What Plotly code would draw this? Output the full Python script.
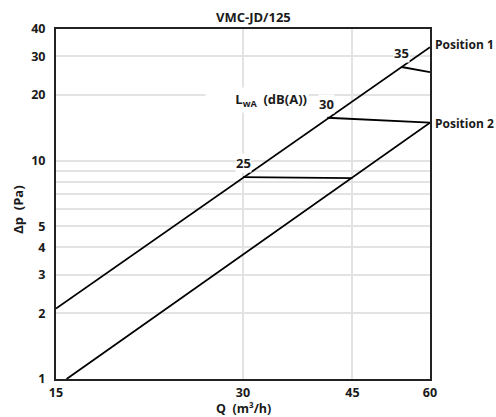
import numpy as np
import plotly.graph_objects as go

# Data
q_pos1 = [15, 60]
dp_pos1 = [2.1, 33.0]
q_pos2 = [15.6, 60]
dp_pos2 = [1.0, 14.9]

# iso-noise lines (LwA dB(A))
lwa_levels = ["25", "30", "35"]
lwa_q = [[30, 45], [41, 60], [54, 60]]
lwa_dp = [[8.4, 8.3], [15.7, 14.9], [26.8, 25.4]]
lwa_label_q = [30, 40.9, 53.9]
lwa_label_dp = [9.74, 18.1, 31.1]

x_ticks = [15, 30, 45, 60]
y_ticks = [1, 2, 3, 4, 5, 6, 7, 8, 9, 10, 20, 30, 40]
y_ticktext = ["1", "2", "3", "4", "5", "", "", "", "", "10", "20", "30", "40"]

FONT = "Open Sans"
TXT = "#1a1a1a"
FS = 13
TICK_FS = 12.5

fig = go.Figure()
fig.add_trace(go.Scatter(x=q_pos1, y=dp_pos1, mode="lines",
                         line=dict(color="black", width=1.8), showlegend=False))
fig.add_trace(go.Scatter(x=q_pos2, y=dp_pos2, mode="lines",
                         line=dict(color="black", width=1.8), showlegend=False))
for q, dp in zip(lwa_q, lwa_dp):
    fig.add_trace(go.Scatter(x=q, y=dp, mode="lines",
                             line=dict(color="black", width=1.8), showlegend=False))

ann = []
for lab, q, dp in zip(lwa_levels, lwa_label_q, lwa_label_dp):
    ann.append(dict(x=np.log10(q), y=np.log10(dp), xref="x", yref="y", text=f"<b>{lab}</b>",
                    xanchor="center", yanchor="middle",
                    showarrow=False, font=dict(family=FONT, size=FS, color=TXT),
                    bgcolor="white", borderpad=0))
ann.append(dict(x=0.398, y=np.log10(18.9), xref="paper", yref="y", xanchor="left",
                yanchor="middle", width=100, height=22, align="right",
                text="<b>L<sub>wA</sub>  (dB(A))</b>", showarrow=False,
                font=dict(family=FONT, size=FS, color=TXT), bgcolor="white", borderpad=1))
ann.append(dict(x=1.008, y=np.log10(33.8), xref="paper", yref="y", xanchor="left",
                yanchor="middle",
                text="<b>Position 1</b>", showarrow=False, font=dict(family=FONT, size=12, color=TXT)))
ann.append(dict(x=1.008, y=np.log10(14.7), xref="paper", yref="y", xanchor="left",
                yanchor="middle",
                text="<b>Position 2</b>", showarrow=False, font=dict(family=FONT, size=12, color=TXT)))
ann.append(dict(x=0.529, y=1.034, xref="paper", yref="paper", text="<b>VMC-JD/125</b>",
                xanchor="center", yanchor="middle",
                showarrow=False, font=dict(family=FONT, size=FS, color=TXT)))
ann.append(dict(x=0.5, y=-0.0829, xref="paper", yref="paper", text="<b>Q  (m³/h)</b>",
                xanchor="center", yanchor="middle", borderpad=0,
                showarrow=False, font=dict(family=FONT, size=12.5, color=TXT)))
ann.append(dict(x=-0.102, y=0.483, xref="paper", yref="paper", text="<b>Δp  (Pa)</b>",
                xanchor="center", yanchor="middle",
                textangle=-90, showarrow=False, font=dict(family=FONT, size=FS, color=TXT)))

fig.update_layout(
    width=496, height=417,
    margin=dict(l=56, r=66, t=29, b=38, autoexpand=False),
    paper_bgcolor="white", plot_bgcolor="white",
    annotations=ann,
    font=dict(family=FONT, size=FS, color=TXT),
)
fig.update_xaxes(type="log", range=[np.log10(15), np.log10(60)], automargin=False,
                 tickvals=x_ticks, ticktext=[f"<b>{v}</b>" for v in x_ticks],
                 tickfont=dict(size=TICK_FS),
                 showgrid=True, gridcolor="#e3e3e3", gridwidth=1.5,
                 showline=True, linecolor="#222", linewidth=2, mirror=True,
                 ticks="", ticklabelstandoff=1, zeroline=False)
fig.update_yaxes(type="log", range=[0, np.log10(40)], automargin=False,
                 tickvals=y_ticks, ticktext=[f"<b>{t}</b>" if t else "" for t in y_ticktext],
                 tickfont=dict(size=TICK_FS),
                 showgrid=True, gridcolor="#e3e3e3", gridwidth=1.5,
                 showline=True, linecolor="#222", linewidth=2, mirror=True,
                 ticks="", ticklabelstandoff=6, zeroline=False)

fig.write_html("out.html", config={"displayModeBar": False},
               post_script="document.body.style.margin='0';document.body.style.overflow='hidden';")
